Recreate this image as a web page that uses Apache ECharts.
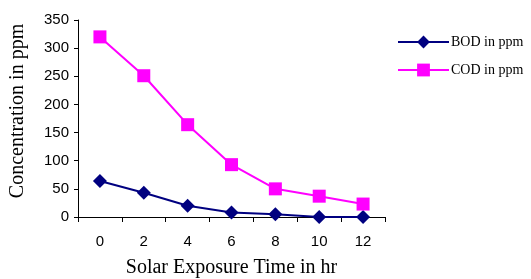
<!DOCTYPE html>
<html><head><meta charset="utf-8">
<script src="https://cdn.jsdelivr.net/npm/echarts@6/dist/echarts.min.js"></script>
<style>html,body{margin:0;padding:0;background:#fff}#c{width:531px;height:279px}</style>
</head><body><div id="c"></div>
<script>
const categories = ['0','2','4','6','8','10','12'];
const bod = [64, 43, 20, 8, 5, 0, 0];
const cod = [320, 251, 164, 93, 50, 37, 23];
const yTicks = [0, 50, 100, 150, 200, 250, 300, 350];

const chart = echarts.init(document.getElementById('c'));
chart.setOption({
  animation: false,
  backgroundColor: '#fff',
  grid: {left: 78, top: 20, right: 146, bottom: 62, containLabel: false, outerBoundsMode: 'none'},
  graphic: [{
    type: 'text', x: 18, y: 111, rotation: Math.PI / 2,
    style: {text: 'Concentration in ppm', fontFamily: 'Liberation Serif', fontSize: 20,
            fill: '#000', align: 'center', verticalAlign: 'middle'}
  }],
  legend: {
    orient: 'vertical', left: 397, top: 35, padding: 0, itemWidth: 51, itemHeight: 16, itemGap: 14,
    textStyle: {fontFamily: 'Liberation Serif', fontSize: 14, color: '#000', padding: [0, 0, 0, -3]},
    data: ['BOD in ppm', 'COD in ppm']
  },
  xAxis: {
    type: 'category', data: categories, boundaryGap: true,
    name: 'Solar Exposure Time in hr', nameLocation: 'middle', nameGap: 41,
    nameTextStyle: {fontFamily: 'Liberation Serif', fontSize: 20, color: '#000'},
    axisLine: {lineStyle: {color: '#000', width: 1}},
    axisTick: {show: true, inside: false, length: 5, alignWithLabel: false, lineStyle: {color: '#000'}},
    axisLabel: {fontFamily: 'Liberation Sans', fontSize: 15, color: '#000', margin: 17},
    splitLine: {show: false}
  },
  yAxis: {
    type: 'value', min: yTicks[0], max: yTicks[yTicks.length-1], interval: 50,
    axisLine: {show: true, lineStyle: {color: '#000', width: 1}},
    axisTick: {show: true, inside: false, length: 4, lineStyle: {color: '#000'}},
    axisLabel: {fontFamily: 'Liberation Sans', fontSize: 15, color: '#000', margin: 9},
    splitLine: {show: false}
  },
  series: [
    {name: 'BOD in ppm', type: 'line', data: bod, symbol: 'diamond', symbolSize: 14,
     lineStyle: {color: '#000080', width: 2}, itemStyle: {color: '#000080'}},
    {name: 'COD in ppm', type: 'line', data: cod, symbol: 'rect', symbolSize: 13,
     lineStyle: {color: '#FF00FF', width: 2}, itemStyle: {color: '#FF00FF'}}
  ]
});
</script></body></html>
